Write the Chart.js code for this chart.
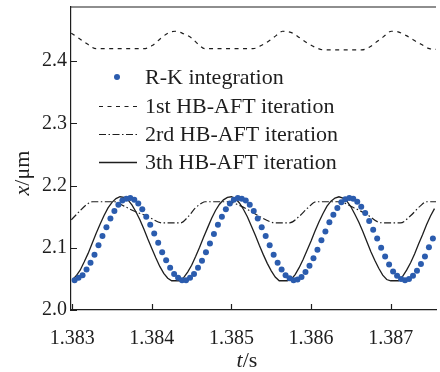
<!DOCTYPE html>
<html>
<head>
<meta charset="utf-8">
<script src="https://cdn.jsdelivr.net/npm/chart.js@4/dist/chart.umd.min.js"></script>
<style>
  html, body { margin: 0; padding: 0; background: #fff; }
  #plot { display: block; }
</style>
</head>
<body>
<canvas id="plot" width="440" height="372"></canvas>
<script>
// ---------- Data ----------
const xTicks = [1.383, 1.384, 1.385, 1.386, 1.387];
const yTicks = [2.0, 2.1, 2.2, 2.3, 2.4];

// R-K integration samples, one every 0.05 ms
const rkStart = 1.38303;
const rkStep = 0.00005;
const rkValues = [
  2.048, 2.052, 2.056, 2.065, 2.076, 2.089, 2.104, 2.119, 2.133, 2.147,
  2.159, 2.169, 2.176, 2.179, 2.180, 2.177, 2.171, 2.162, 2.150, 2.137,
  2.123, 2.108, 2.093, 2.080, 2.068, 2.058, 2.052, 2.048, 2.048, 2.052,
  2.058, 2.068, 2.079, 2.093, 2.107, 2.122, 2.137, 2.150, 2.162, 2.171,
  2.177, 2.180, 2.179, 2.176, 2.169, 2.159, 2.147, 2.133, 2.119, 2.104,
  2.089, 2.076, 2.065, 2.056, 2.051, 2.048, 2.049, 2.053, 2.061, 2.071,
  2.083, 2.097, 2.112, 2.126, 2.141, 2.153, 2.164, 2.173, 2.178, 2.180,
  2.179, 2.174, 2.166, 2.156, 2.143, 2.129, 2.115, 2.100, 2.086, 2.073,
  2.062, 2.055, 2.050, 2.048, 2.050, 2.055, 2.063, 2.074, 2.086, 2.101,
  2.115
];

// 3rd HB-AFT iteration, one sample every 0.05 ms
const hb3Start = 1.383;
const hb3Step = 0.00005;
const hb3Values = [
  2.048, 2.055, 2.064, 2.077, 2.091, 2.107, 2.123, 2.138, 2.152, 2.164,
  2.173, 2.179, 2.182, 2.181, 2.177, 2.169, 2.158, 2.145, 2.130, 2.114,
  2.099, 2.084, 2.070, 2.059, 2.051, 2.047, 2.047, 2.047, 2.052, 2.061,
  2.072, 2.086, 2.101, 2.117, 2.132, 2.147, 2.160, 2.170, 2.177, 2.181,
  2.182, 2.179, 2.172, 2.162, 2.150, 2.135, 2.120, 2.104, 2.089, 2.075,
  2.063, 2.053, 2.047, 2.047, 2.047, 2.049, 2.057, 2.068, 2.081, 2.096,
  2.111, 2.127, 2.142, 2.155, 2.167, 2.175, 2.180, 2.182, 2.180, 2.175,
  2.166, 2.154, 2.141, 2.126, 2.110, 2.094, 2.080, 2.067, 2.056, 2.049,
  2.047, 2.047, 2.047, 2.054, 2.064, 2.076, 2.090, 2.106, 2.121, 2.137,
  2.151, 2.163
];

// 2nd HB-AFT iteration (plateau shaped)
const hb2Times = [
  1.382989, 1.383072, 1.383175, 1.383258, 1.383528, 1.383652, 1.383776, 1.383941,
  1.384128, 1.384360, 1.384463, 1.384547, 1.384629, 1.384671, 1.384960, 1.385085,
  1.385209, 1.385358, 1.385482, 1.385544, 1.385731, 1.385855, 1.385958, 1.386062,
  1.386351, 1.386542, 1.386708, 1.386832, 1.386914, 1.387122, 1.387246, 1.387370,
  1.387453, 1.387569
];
const hb2Values = [
  2.145, 2.156, 2.169, 2.174, 2.174, 2.167, 2.159, 2.151,
  2.140, 2.140, 2.151, 2.164, 2.172, 2.174, 2.174, 2.169,
  2.161, 2.150, 2.142, 2.140, 2.140, 2.151, 2.164, 2.174,
  2.174, 2.164, 2.153, 2.142, 2.140, 2.140, 2.151, 2.167,
  2.174, 2.174
];

// 1st HB-AFT iteration
const hb1Times = [
  1.382989, 1.383093, 1.383196, 1.383299, 1.383901, 1.384004, 1.384107, 1.384190,
  1.384293, 1.384398, 1.384501, 1.384584, 1.384666, 1.385271, 1.385374, 1.385478,
  1.385560, 1.385643, 1.385768, 1.385851, 1.385954, 1.386057, 1.386161, 1.386637,
  1.386740, 1.386824, 1.386907, 1.387010, 1.387093, 1.387196, 1.387299, 1.387383,
  1.387486, 1.387569
];
const hb1Values = [
  2.445, 2.436, 2.427, 2.420, 2.420, 2.425, 2.436, 2.444,
  2.448, 2.444, 2.437, 2.427, 2.420, 2.420, 2.425, 2.433,
  2.441, 2.448, 2.445, 2.438, 2.429, 2.422, 2.418, 2.418,
  2.423, 2.431, 2.439, 2.448, 2.447, 2.441, 2.433, 2.427,
  2.420, 2.419
];

const seriesNames = ['R-K integration', '1st HB-AFT iteration', '2rd HB-AFT iteration', '3th HB-AFT iteration'];

// ---------- Helpers ----------
const SERIF = '"Liberation Serif", "DejaVu Serif", serif';
const INK = '#1e1e1e';
const DOT_BLUE = '#2b5cae';

function sampled(start, step, values) {
  return values.map((v, i) => ({ x: start + i * step, y: v }));
}

function paired(times, values) {
  return times.map((t, i) => ({ x: t, y: values[i] }));
}

// ---------- Plugins ----------
// top frame line + ticks that point into the plot
const frameTicks = {
  id: 'frameTicks',
  afterDraw(chart) {
    const { ctx, chartArea: a, scales } = chart;
    ctx.save();
    ctx.strokeStyle = INK;
    ctx.lineWidth = 1.2;
    ctx.beginPath();
    ctx.moveTo(a.left, a.top);
    ctx.lineTo(a.right, a.top);
    xTicks.forEach(v => {
      const px = Math.round(scales.x.getPixelForValue(v)) + 0.5;
      ctx.moveTo(px, a.bottom);
      ctx.lineTo(px, a.bottom - 6);
    });
    yTicks.forEach(v => {
      const py = Math.round(scales.y.getPixelForValue(v)) + 0.5;
      ctx.moveTo(a.left, py);
      ctx.lineTo(a.left + 6, py);
    });
    ctx.stroke();
    ctx.restore();
  }
};

// axis titles with italic variable names
function drawMixed(ctx, parts, cx, cy) {
  let total = 0;
  parts.forEach(p => { ctx.font = p.font; total += ctx.measureText(p.text).width; });
  let x = cx - total / 2;
  parts.forEach(p => {
    ctx.font = p.font;
    ctx.fillText(p.text, x, cy);
    x += ctx.measureText(p.text).width;
  });
}

const axisTitles = {
  id: 'axisTitles',
  afterDraw(chart) {
    const { ctx } = chart;
    ctx.save();
    ctx.fillStyle = INK;
    ctx.textBaseline = 'middle';
    ctx.textAlign = 'left';
    drawMixed(ctx, [
      { text: 't', font: 'italic 22px ' + SERIF },
      { text: '/s', font: '22px ' + SERIF }
    ], 247, 361);
    ctx.translate(23, 173);
    ctx.rotate(-Math.PI / 2);
    drawMixed(ctx, [
      { text: 'x', font: 'italic 22px ' + SERIF },
      { text: '/\u03bcm', font: '22px ' + SERIF }
    ], 0, 0);
    ctx.restore();
  }
};

// legend drawn inside the plot area
const innerLegend = {
  id: 'innerLegend',
  afterDraw(chart) {
    const { ctx } = chart;
    const rows = [77, 106, 134, 162];
    ctx.save();
    ctx.font = '22px ' + SERIF;
    ctx.textBaseline = 'middle';
    chart.data.datasets.forEach((ds, i) => {
      const y = rows[i];
      if (ds.showLine === false) {
        ctx.fillStyle = ds.pointBackgroundColor;
        ctx.beginPath();
        ctx.arc(117, y, 3, 0, Math.PI * 2);
        ctx.fill();
      } else {
        ctx.strokeStyle = ds.borderColor;
        ctx.lineWidth = ds.borderWidth;
        ctx.setLineDash(ds.borderDash || []);
        ctx.beginPath();
        ctx.moveTo(99, y + 0.5);
        ctx.lineTo(137, y + 0.5);
        ctx.stroke();
        ctx.setLineDash([]);
      }
      ctx.fillStyle = INK;
      ctx.fillText(ds.label, 145, y + 1);
    });
    ctx.restore();
  }
};

// ---------- Chart ----------
const ctxPlot = document.getElementById('plot').getContext('2d');

new Chart(ctxPlot, {
  type: 'scatter',
  data: {
    datasets: [
      {
        label: seriesNames[0],
        data: sampled(rkStart, rkStep, rkValues),
        showLine: false,
        pointRadius: 3,
        pointBorderWidth: 0,
        pointBackgroundColor: DOT_BLUE,
        pointBorderColor: DOT_BLUE
      },
      {
        label: seriesNames[1],
        data: paired(hb1Times, hb1Values),
        showLine: true,
        borderColor: INK,
        borderWidth: 1.2,
        borderDash: [4, 4.5],
        pointRadius: 0,
        cubicInterpolationMode: 'monotone'
      },
      {
        label: seriesNames[2],
        data: paired(hb2Times, hb2Values),
        showLine: true,
        borderColor: INK,
        borderWidth: 1.2,
        borderDash: [7, 2.5, 1.5, 2.5],
        pointRadius: 0,
        cubicInterpolationMode: 'monotone'
      },
      {
        label: seriesNames[3],
        data: sampled(hb3Start, hb3Step, hb3Values),
        showLine: true,
        borderColor: INK,
        borderWidth: 1.3,
        pointRadius: 0,
        tension: 0
      }
    ]
  },
  options: {
    responsive: false,
    animation: false,
    devicePixelRatio: 1,
    layout: { padding: { top: 7, right: 0, left: 0, bottom: 0 } },
    plugins: {
      legend: { display: false },
      tooltip: { enabled: false }
    },
    scales: {
      x: {
        type: 'linear',
        min: 1.382985,
        max: 1.387569,
        afterFit: s => { s.height = 62; s.paddingLeft = 0; s.paddingRight = 0; },
        afterBuildTicks: s => { s.ticks = xTicks.map(v => ({ value: v })); },
        grid: { drawOnChartArea: false, drawTicks: false },
        border: { display: true, color: INK, width: 1.2 },
        ticks: {
          padding: 17,
          color: INK,
          maxRotation: 0,
          font: { family: SERIF, size: 20 },
          callback: v => v.toFixed(3)
        }
      },
      y: {
        type: 'linear',
        min: 2.0,
        max: 2.487,
        afterFit: s => { s.width = 71; s.paddingTop = 0; s.paddingBottom = 0; },
        afterBuildTicks: s => { s.ticks = yTicks.map(v => ({ value: v })); },
        grid: { drawOnChartArea: false, drawTicks: false },
        border: { display: true, color: INK, width: 1.2 },
        ticks: {
          padding: 4,
          color: INK,
          font: { family: SERIF, size: 20 },
          callback: v => v.toFixed(1)
        }
      }
    }
  },
  plugins: [frameTicks, axisTitles, innerLegend]
});
</script>
</body>
</html>
